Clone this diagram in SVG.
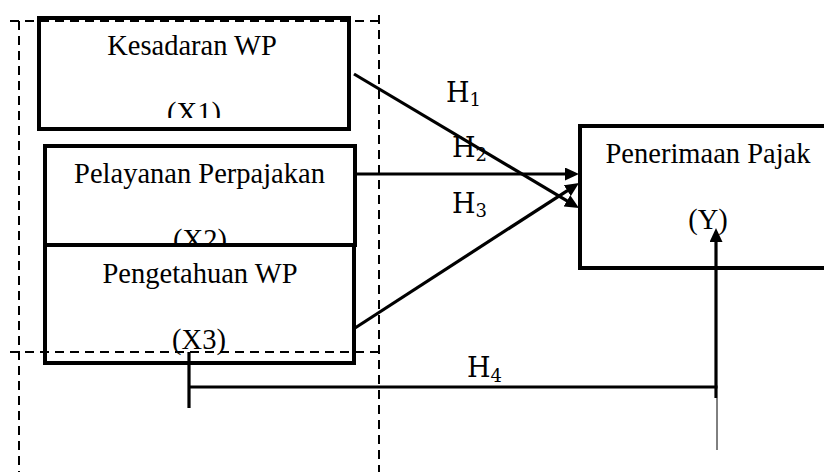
<svg xmlns="http://www.w3.org/2000/svg" width="824" height="472" viewBox="0 0 824 472">
  <style>
    .box { fill: #fff; stroke: #000; stroke-width: 4; }
    .t { font-family: "Liberation Serif", "Times New Roman", serif; font-size: 28.5px; fill: #000; text-anchor: middle; }
    .h { font-family: "DejaVu Serif", "Liberation Serif", serif; font-size: 27px; fill: #000; }
    .sub { font-size: 18px; }
    .ln { stroke: #000; stroke-width: 3.2; fill: none; }
    .dash { stroke: #000; stroke-width: 2; stroke-dasharray: 9 6; fill: none; }
  </style>
  <defs>
    <marker id="ah" viewBox="0 0 14 13" refX="8" refY="6.5" markerWidth="14" markerHeight="13" markerUnits="userSpaceOnUse" orient="auto">
      <path d="M0,0 L14,6.5 L0,13 z" fill="#000"/>
    </marker>
    <clipPath id="c1"><rect x="0" y="0" width="824" height="118"/></clipPath>
  </defs>
  <rect width="824" height="472" fill="#fff"/>

  <g id="node-x1">
    <rect class="box" x="39" y="18" width="310" height="111"/>
    <text class="t" x="192" y="55">Kesadaran WP</text>
    <text class="t" x="194" y="122" clip-path="url(#c1)">(X1)</text>
  </g>
  <g id="node-x2">
    <rect class="box" x="45" y="146" width="310" height="99"/>
    <text class="t" x="199.5" y="183">Pelayanan Perpajakan</text>
    <text class="t" x="200" y="249">(X2)</text>
  </g>
  <g id="node-x3">
    <rect class="box" x="45" y="245" width="309" height="118"/>
    <text class="t" x="200" y="283">Pengetahuan WP</text>
    <text class="t" x="199" y="349">(X3)</text>
  </g>
  <g id="node-y">
    <rect class="box" x="580" y="126" width="260" height="142"/>
    <text class="t" x="708" y="163">Penerimaan Pajak</text>
    <text class="t" x="708" y="229">(Y)</text>
  </g>

  <g id="connectors">
    <text class="h" x="446" y="102">H<tspan class="sub" dy="4">1</tspan></text>
    <text class="h" x="452" y="157">H<tspan class="sub" dy="4">2</tspan></text>
    <text class="h" x="452" y="213">H<tspan class="sub" dy="4">3</tspan></text>
    <text class="h" x="467" y="377">H<tspan class="sub" dy="5">4</tspan></text>
    <line class="ln" x1="354" y1="74" x2="573.8" y2="204.9" marker-end="url(#ah)"/>
    <line class="ln" x1="355" y1="174" x2="573" y2="174" marker-end="url(#ah)"/>
    <line class="ln" x1="355" y1="328" x2="574" y2="186.3" marker-end="url(#ah)"/>
    <line class="ln" x1="189" y1="352" x2="189" y2="408"/>
    <line class="ln" x1="189" y1="387" x2="717.5" y2="387"/>
    <line class="ln" x1="716" y1="398" x2="716" y2="234" marker-end="url(#ah)"/>
    <line stroke="#000" stroke-width="1" x1="717" y1="398" x2="717" y2="450"/>
  </g>

  <g id="frame">
    <line class="dash" x1="10" y1="21" x2="379" y2="21"/>
    <line class="dash" x1="19" y1="21" x2="19" y2="472"/>
    <line class="dash" x1="379" y1="15" x2="379" y2="472"/>
    <line class="dash" x1="10" y1="352" x2="379" y2="352"/>
  </g>
</svg>
